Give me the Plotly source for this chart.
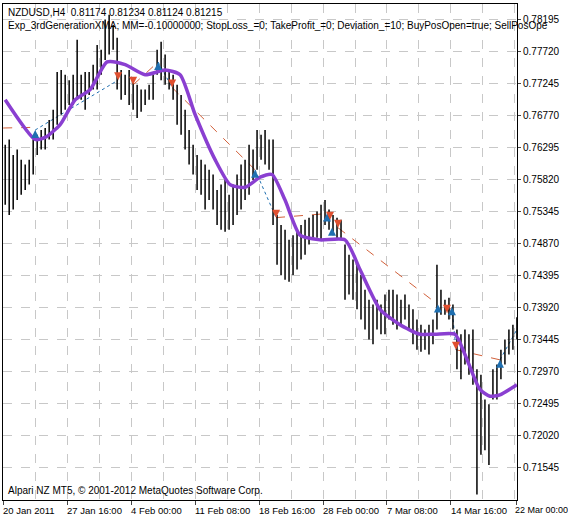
import plotly.graph_objects as go

highs = [.7634,.7642,.7619,.7627,.7612,.7605,.7612,.7642,.7649,.7656,.7659,.7671,.7686,.7742,.7745,.7738,.7730,.7738,.7790,.7738,
         .7742,.7742,.7753,.7782,.7775,.7820,.7827,.7812,.7793,.7745,.7738,.7745,.7730,.7723,.7716,.7716,.7723,.7738,.7775,.7787,
         .7768,.7745,.7738,.7723,.7708,.7686,.7656,.7634,.7619,.7612,.7605,.7597,.7590,.7567,.7575,.7582,.7560,.7575,.7590,.7605,
         .7612,.7634,.7627,.7656,.7649,.7656,.7642,.7642,.7530,.7515,.7508,.7493,.7500,.7508,.7515,.7523,.7526,.7530,.7535,.7545,
         .7552,.7538,.7530,.7526,.7523,.7486,.7471,.7464,.7456,.7441,.7419,.7404,.7397,.7404,.7397,.7412,.7419,.7419,.7412,.7404,
         .7412,.7397,.7390,.7375,.7367,.7360,.7367,.7375,.7456,.7419,.7404,.7407,.7397,.7360,.7353,.7360,.7353,.7360,.7301,.7293,
         .7256,.7249,.7301,.7308,.7330,.7345,.7360,.7367,.7378]
lows  = [.7545,.7530,.7538,.7552,.7560,.7567,.7575,.7590,.7619,.7627,.7627,.7642,.7642,.7664,.7679,.7686,.7693,.7693,.7701,.7701,
         .7686,.7708,.7716,.7716,.7738,.7760,.7768,.7775,.7716,.7701,.7708,.7693,.7686,.7674,.7683,.7693,.7701,.7701,.7738,.7730,
         .7723,.7716,.7701,.7664,.7649,.7627,.7605,.7590,.7567,.7560,.7538,.7552,.7538,.7515,.7508,.7505,.7508,.7515,.7530,.7538,
         .7552,.7560,.7582,.7597,.7612,.7605,.7597,.7515,.7456,.7441,.7434,.7431,.7441,.7449,.7464,.7471,.7486,.7493,.7496,.7493,
         .7515,.7508,.7500,.7493,.7493,.7404,.7412,.7404,.7390,.7375,.7360,.7345,.7338,.7360,.7353,.7353,.7375,.7367,.7360,.7367,
         .7375,.7360,.7338,.7330,.7327,.7330,.7323,.7338,.7360,.7382,.7382,.7375,.7360,.7301,.7286,.7308,.7293,.7278,.7115,.7174,
         .7181,.7159,.7256,.7256,.7286,.7308,.7323,.7330,.7345]

ma_idx = [0,7.5,10,13.75,17.5,21.25,25.5,30,35,40,43.75,47.5,52.5,56.25,60,63.75,66.75,70,73.75,78.75,85,88.75,93.75,98.75,103.75,107.5,112.5,115,118.75,121.25,123.75,128]
ma_val = [.7701,.7642,.7645,.7664,.7701,.7716,.7757,.7753,.7738,.7745,.7738,.7679,.7612,.7575,.7571,.7586,.7590,.7552,.7500,.7493,.7493,.7449,.7390,.7367,.7353,.7353,.7353,.7323,.7271,.7261,.7263,.7278]

buy_idx = [7.5,38.25,62.5,80.5,81.75,108.25,111.75,123.75]
buy_val = [.7656,.7757,.7597,.7532,.7511,.7397,.7393,.7315]
sell_idx = [28.25,32,41.75,67.75,81.25,83.25,110.5,112.75]
sell_val = [.7730,.7723,.7719,.7526,.7523,.7511,.7385,.7330]

sell_lines = [((-0.5,.7659),(7.5,.7660)),((32,.7723),(38.25,.7757)),((41.75,.7719),(62.5,.7597)),
              ((67.75,.7526),(80.5,.7532)),((83.25,.7511),(108.25,.7397)),((110.5,.7385),(111.75,.7393)),
              ((112.75,.7330),(123.75,.7315))]
buy_lines = [((7.5,.7656),(28.25,.7730)),((38.25,.7757),(41.75,.7719)),((62.5,.7597),(67.75,.7526)),
             ((80.5,.7532),(81.25,.7523)),((111.75,.7393),(112.75,.7330)),((123.75,.7315),(128,.7360))]

date_labels = ["20 Jan 2011","27 Jan 16:00","4 Feb 00:00","11 Feb 08:00","18 Feb 16:00",
               "28 Feb 00:00","7 Mar 08:00","14 Mar 16:00","22 Mar 00:00"]
price_ticks = [.78195,.77720,.77245,.76770,.76295,.75820,.75345,.74870,.74395,.73920,.73445,.72970,.72495,.72020,.71545]

bx, by = [], []
for i,(h,l) in enumerate(zip(highs,lows)):
    bx += [i,i,None]; by += [h,l,None]

fig = go.Figure()
def seglines(lines, color, dash):
    xs, ys = [], []
    for (a,b) in lines:
        xs += [a[0],b[0],None]; ys += [a[1],b[1],None]
    fig.add_trace(go.Scatter(x=xs,y=ys,mode="lines",line=dict(color=color,width=1,dash=dash),hoverinfo="skip"))
seglines(sell_lines,"#d2603a","dash")
seglines(buy_lines,"#1f6fb0","dot")
fig.add_trace(go.Scatter(x=bx,y=by,mode="lines",line=dict(color="black",width=1.5),hoverinfo="skip"))
fig.add_trace(go.Scatter(x=ma_idx,y=ma_val,mode="lines",line=dict(color="#8a3fd1",width=3.5,shape="spline",smoothing=0.6)))
fig.add_trace(go.Scatter(x=buy_idx,y=buy_val,mode="markers",marker=dict(symbol="arrow-up",size=8,color="#1f6fb0")))
fig.add_trace(go.Scatter(x=sell_idx,y=sell_val,mode="markers",marker=dict(symbol="arrow-down",size=8,color="#e05030")))

tickpos = [-0.5+16*k for k in range(8)] + [128]
grid = dict(showgrid=True,gridcolor="#c8c8c8",griddash="dash",gridwidth=1)
annots = [
    dict(x=0.005,y=0.998,xref="paper",yref="paper",xanchor="left",yanchor="top",showarrow=False,align="left",
         text="NZDUSD,H4  0.81174 0.81234 0.81124 0.81215<br>Exp_3rdGenerationXMA; MM=-0.10000000; StopLoss_=0; TakeProfit_=0; Deviation_=10; BuyPosOpen=true; SellPosOpe",
         font=dict(size=10)),
    dict(x=0.005,y=0.005,xref="paper",yref="paper",xanchor="left",yanchor="bottom",showarrow=False,
         text="Alpari NZ MT5, © 2001-2012 MetaQuotes Software Corp.",font=dict(size=10)),
]
for k, (p, lab) in enumerate(zip(tickpos, date_labels)):
    last = k == len(tickpos) - 1
    annots.append(dict(x=p,y=0,xref="x",yref="paper",xanchor="left",yanchor="top",yshift=-3,
                       xshift=-4 if last else -2,
                       showarrow=False,text=lab,font=dict(size=9 if last else 9.5)))
fig.update_layout(
    width=568,height=521,margin=dict(l=3,r=51,t=4,b=21),
    paper_bgcolor="white",plot_bgcolor="white",showlegend=False,
    font=dict(family="Liberation Sans",size=10,color="black"),
    xaxis=dict(range=[-0.55,128.02],tickvals=tickpos,showticklabels=False,ticks="outside",ticklen=4,
               automargin=False,
               showline=True,linecolor="black",mirror=True,zeroline=False,
               minor=dict(dtick=8,tick0=-0.5,showgrid=True,gridcolor="#c8c8c8",griddash="dash"),**grid),
    yaxis=dict(range=[.7107,.7843],side="right",tickvals=price_ticks,ticktext=[f"{v:.5f}" for v in price_ticks],
               automargin=False,tickfont=dict(size=10),
               ticks="outside",ticklen=3,showline=True,linecolor="black",mirror=True,zeroline=False,**grid),
    annotations=annots)
fig.write_html("out.html", config={"displayModeBar": False}, post_script="document.body.style.margin='0';")
